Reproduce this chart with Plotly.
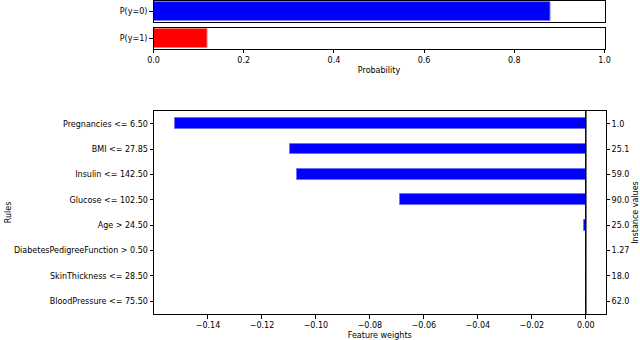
import plotly.graph_objects as go

# ---- data ----
prob_labels = ["P(y=0)", "P(y=1)"]
prob_values = [0.88, 0.12]
prob_colors = ["blue", "red"]
prob_edges = ["rgba(120,120,255,1)", "rgba(255,120,120,1)"]
prob_ticks = [0.0, 0.2, 0.4, 0.6, 0.8, 1.0]

rules = [
    "Pregnancies <= 6.50",
    "BMI <= 27.85",
    "Insulin <= 142.50",
    "Glucose <= 102.50",
    "Age > 24.50",
    "DiabetesPedigreeFunction > 0.50",
    "SkinThickness <= 28.50",
    "BloodPressure <= 75.50",
]
weights = [-0.1524, -0.1096, -0.1069, -0.0687, -0.0006, 0.0, 0.0, 0.0]
instance_values = ["1.0", "25.1", "59.0", "90.0", "25.0", "1.27", "18.0", "62.0"]
weight_ticks = [-0.14, -0.12, -0.10, -0.08, -0.06, -0.04, -0.02, 0.0]

W, H = 640, 340
FONT = "DejaVu Sans"
FS = 8


def px_x(a, b):
    return [a / W, b / W]


def px_y(top, bottom):
    return [1 - bottom / H, 1 - top / H]


fig = go.Figure()

for i, (lab, val, col, edge) in enumerate(zip(prob_labels, prob_values, prob_colors, prob_edges)):
    sfx = "" if i == 0 else str(i + 1)
    fig.add_trace(go.Bar(
        x=[val], y=[lab], orientation="h", width=0.93,
        marker=dict(color=col, line=dict(color=edge, width=1)),
        xaxis="x" + sfx, yaxis="y" + sfx, showlegend=False, hoverinfo="x+y",
    ))

pos = list(range(len(rules)))
fig.add_trace(go.Bar(
    x=weights, y=pos, orientation="h", width=0.42,
    marker=dict(color="blue", line=dict(color="rgba(110,110,255,1)", width=1)),
    xaxis="x3", yaxis="y3", showlegend=False,
))
fig.add_trace(go.Scatter(
    x=[None] * len(pos), y=pos, mode="markers", marker=dict(opacity=0),
    xaxis="x3", yaxis="y4", showlegend=False, hoverinfo="skip",
))

axis_common = dict(
    showline=True, linecolor="black", linewidth=1, mirror=True,
    showgrid=False, zeroline=False, ticks="outside", ticklen=3.5,
    tickwidth=0.8, tickcolor="black", automargin=False,
    tickfont=dict(family=FONT, size=FS, color="black"),
)

top_x = px_x(153.5, 604.5)
fig.update_layout(
    width=W, height=H,
    margin=dict(l=0, r=0, t=0, b=0, pad=0, autoexpand=False),
    paper_bgcolor="white", plot_bgcolor="white",
    font=dict(family=FONT, size=FS, color="black"),
    bargap=0,
    xaxis=dict(axis_common, domain=top_x, range=[0, 1], ticks="", showticklabels=False,
               anchor="y"),
    yaxis=dict(axis_common, domain=px_y(1, 21.5), anchor="x", range=[-0.5, 0.5]),
    xaxis2=dict(axis_common, domain=top_x, range=[0, 1], anchor="y2",
                tickvals=prob_ticks, tickformat=".1f",
                title=dict(text="Probability", standoff=3,
                           font=dict(family=FONT, size=FS))),
    yaxis2=dict(axis_common, domain=px_y(28, 48.5), anchor="x2", range=[-0.5, 0.5]),
    xaxis3=dict(axis_common, domain=px_x(154, 605.5), range=[-0.16, 0.0073],
                anchor="y3", tickvals=weight_ticks, tickformat=".2f",
                title=dict(text="Feature weights", standoff=3,
                           font=dict(family=FONT, size=FS))),
    yaxis3=dict(axis_common, domain=px_y(111, 314), anchor="x3",
                range=[7.5, -0.5], tickvals=pos, ticktext=rules,
                title=dict(text="Rules", standoff=1,
                           font=dict(family=FONT, size=FS))),
    yaxis4=dict(axis_common, overlaying="y3", side="right", anchor="x3",
                range=[7.5, -0.5], tickvals=pos, ticktext=instance_values,
                showline=False, mirror=False,
                title=dict(text="Instance values", standoff=4,
                           font=dict(family=FONT, size=FS))),
)

fig.add_shape(type="line", xref="x3", yref="y3 domain", x0=0, x1=0, y0=0, y1=1,
              line=dict(color="black", width=1.5))

fig.write_html("out.html", config={"displayModeBar": False},
               post_script="document.body.style.margin='0';")
